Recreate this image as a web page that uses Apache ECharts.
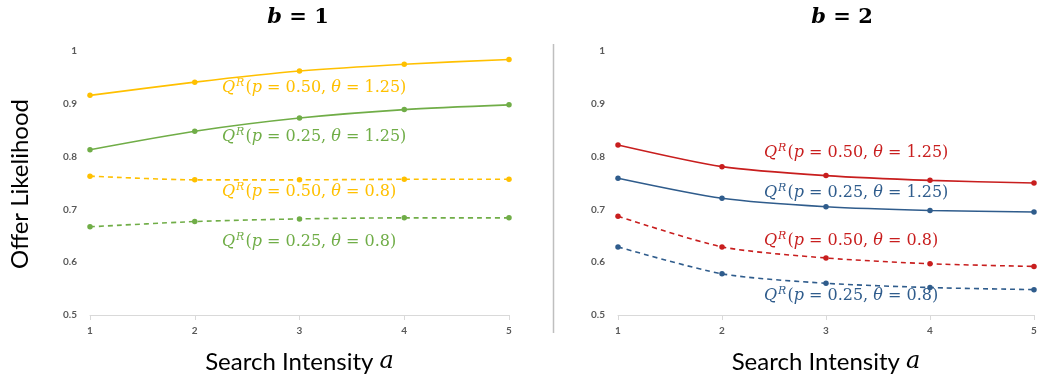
<!DOCTYPE html>
<html>
<head>
<meta charset="utf-8">
<script src="https://cdn.jsdelivr.net/npm/echarts@6/dist/echarts.min.js"></script>
<style>html,body{margin:0;padding:0;background:#fff;}#c{width:1042px;height:383px;}</style>
</head>
<body>
<div id="c"></div>
<script>
// ---- data ----
const categories = ['1', '2', '3', '4', '5'];
const yTicks = [0.5, 0.6, 0.7, 0.8, 0.9, 1];
// b = 1
const b1_p050_t125 = [0.916, 0.941, 0.962, 0.975, 0.984];
const b1_p025_t125 = [0.813, 0.848, 0.873, 0.889, 0.898];
const b1_p050_t08  = [0.763, 0.756, 0.756, 0.757, 0.757];
const b1_p025_t08  = [0.667, 0.677, 0.682, 0.684, 0.684];
// b = 2
const b2_p050_t125 = [0.822, 0.781, 0.764, 0.755, 0.750];
const b2_p025_t125 = [0.759, 0.721, 0.705, 0.698, 0.695];
const b2_p050_t08  = [0.687, 0.629, 0.608, 0.597, 0.592];
const b2_p025_t08  = [0.629, 0.578, 0.560, 0.552, 0.548];
const panelTitles = ['1', '2'];
const labelTexts = [
  ['0.50', '1.25'], ['0.25', '1.25'], ['0.50', '0.8'], ['0.25', '0.8']
];

const YELLOW = '#FFC000', GREEN = '#70AD47', RED = '#C81E1E', BLUE = '#2F5C8C';

const chart = echarts.init(document.getElementById('c'));

function xAx(grid) {
  return {
    type: 'category', gridIndex: grid, data: categories, boundaryGap: false,
    axisLine: { lineStyle: { color: '#d9d9d9', width: 1 } },
    axisTick: { show: true, alignWithLabel: true, length: 5, lineStyle: { color: '#d9d9d9' } },
    axisLabel: { color: '#595959', fontWeight: 'bold', fontSize: 10, fontFamily: 'Lato', margin: 11 },
    name: 'Search Intensity {a|a}', nameLocation: 'middle', nameGap: 35,
    nameTextStyle: { fontFamily: 'Lato', fontSize: 24, color: '#000',
      rich: { a: { fontFamily: 'DejaVu Serif', fontStyle: 'italic', fontSize: 24, color: '#000' } } }
  };
}
function yAx(grid) {
  return {
    type: 'value', gridIndex: grid, min: yTicks[0], max: yTicks[yTicks.length - 1], interval: 0.1,
    axisLine: { show: false }, axisTick: { show: false }, splitLine: { show: false },
    axisLabel: { color: '#595959', fontWeight: 'bold', fontSize: 10, fontFamily: 'Lato', margin: 13,
      formatter: v => String(+v.toFixed(1)) }
  };
}
function ser(grid, data, color, dashed) {
  return {
    type: 'line', xAxisIndex: grid, yAxisIndex: grid, data: data, smooth: 0.25,
    symbol: 'circle', symbolSize: 5.5, itemStyle: { color: color },
    lineStyle: { color: color, width: 1.6, type: dashed ? [5, 4] : 'solid' },
    z: 3
  };
}
function annot(x, y, vals, color) {
  return {
    type: 'text', x: x, y: y, z: 10,
    style: {
      text: '{q|Q}{s|R}{t|(}{q|p}{t| = ' + vals[0] + ', }{q|θ}{t| = ' + vals[1] + ')}',
      verticalAlign: 'middle', fill: color,
      rich: {
        q: { fontFamily: 'DejaVu Serif', fontStyle: 'italic', fontSize: 16, fill: color, color: color },
        t: { fontFamily: 'DejaVu Serif', fontSize: 16, fill: color, color: color },
        s: { fontFamily: 'DejaVu Serif', fontStyle: 'italic', fontSize: 11, fill: color, color: color, padding: [0, 1, 9, 1] }
      }
    }
  };
}

chart.setOption({
  animation: false,
  backgroundColor: '#fff',
  title: panelTitles.map((t, i) => ({
    text: '{b|b}{t| = ' + t + '}',
    left: i === 0 ? 293 : 837, top: 2, textAlign: 'center',
    textStyle: { rich: {
      b: { fontFamily: 'DejaVu Serif', fontStyle: 'italic', fontWeight: 'bold', fontSize: 21, color: '#000' },
      t: { fontFamily: 'DejaVu Serif', fontWeight: 'bold', fontSize: 21, color: '#000' }
    } }
  })),
  grid: [
    { left: 90, right: 533, top: 51, bottom: 68, containLabel: false, outerBoundsMode: 'none' },
    { left: 618, right: 8, top: 51, bottom: 68, containLabel: false, outerBoundsMode: 'none' }
  ],
  xAxis: [xAx(0), xAx(1)],
  yAxis: [yAx(0), yAx(1)],
  series: [
    ser(0, b1_p050_t125, YELLOW, false),
    ser(0, b1_p025_t125, GREEN, false),
    ser(0, b1_p050_t08, YELLOW, true),
    ser(0, b1_p025_t08, GREEN, true),
    ser(1, b2_p050_t125, RED, false),
    ser(1, b2_p025_t125, BLUE, false),
    ser(1, b2_p050_t08, RED, true),
    ser(1, b2_p025_t08, BLUE, true)
  ],
  graphic: [
    { type: 'line', shape: { x1: 553.5, y1: 44, x2: 553.5, y2: 333 }, style: { stroke: '#bfbfbf', lineWidth: 1.5 } },
    { type: 'text', x: 20, y: 184, rotation: Math.PI / 2,
      style: { text: 'Offer Likelihood', font: '24px Lato', fill: '#000', align: 'center', verticalAlign: 'middle' } },
    annot(222, 88, labelTexts[0], YELLOW),
    annot(222, 137, labelTexts[1], GREEN),
    annot(222, 192, labelTexts[2], YELLOW),
    annot(222, 242, labelTexts[3], GREEN),
    annot(764, 153, labelTexts[0], RED),
    annot(764, 193, labelTexts[1], BLUE),
    annot(764, 241, labelTexts[2], RED),
    annot(764, 296, labelTexts[3], BLUE)
  ]
});
</script>
</body>
</html>
